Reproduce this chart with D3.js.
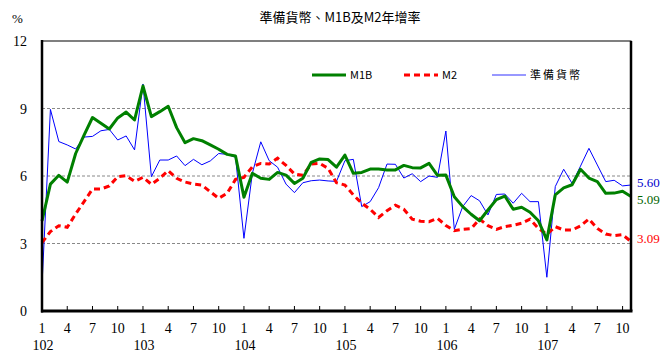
<!DOCTYPE html>
<html><head><meta charset="utf-8">
<script src="https://cdn.jsdelivr.net/npm/d3@7"></script>
<style>body{margin:0;background:#fff}svg{display:block}</style>
</head><body><svg id="c" width="670" height="364"></svg>
<script>
const years = ["102","103","104","105","106","107"];
const monthLabels = ["1","4","7","10"];
const yTicks = [0,3,6,9,12];
const m1b = [4.0,5.64,6.03,5.73,7.0,7.82,8.6,8.34,8.09,8.58,8.84,8.49,
 10.0,8.64,8.86,9.1,8.15,7.48,7.66,7.57,7.38,7.19,6.96,6.89,
 5.06,6.12,5.9,5.85,6.16,6.04,5.67,5.9,6.61,6.76,6.73,6.39,
 6.93,6.12,6.16,6.31,6.31,6.27,6.27,6.47,6.37,6.36,6.56,6.03,
 6.04,5.08,4.64,4.3,4.01,4.49,4.95,5.11,4.52,4.61,4.39,4.01,
 3.16,5.16,5.47,5.61,6.3,5.91,5.75,5.23,5.24,5.32,5.09];
const m2 = [3.04,3.53,3.79,3.72,4.31,4.86,5.42,5.42,5.56,5.97,6.01,5.76,
 5.94,5.63,5.9,6.24,5.9,5.73,5.64,5.6,5.3,5.01,5.23,5.85,
 5.94,6.41,6.56,6.53,6.79,6.47,6.09,6.03,6.53,6.56,6.34,5.7,
 5.6,5.16,4.79,4.52,4.16,4.46,4.7,4.52,4.08,3.99,3.97,4.12,
 3.8,3.57,3.63,3.66,4.09,3.79,3.63,3.75,3.81,3.9,4.08,3.67,
 3.41,3.75,3.6,3.6,3.78,4.09,3.67,3.42,3.35,3.39,3.09];
const reserve = [1.15,8.96,7.53,7.38,7.2,7.73,7.76,8.01,8.07,7.6,7.78,7.16,
 10.09,5.97,6.71,6.71,6.89,6.46,6.74,6.5,6.67,7.0,6.96,6.83,
 3.23,6.12,7.52,6.68,6.39,5.64,5.26,5.7,5.79,5.82,5.78,5.76,
 6.68,6.74,4.64,4.86,5.48,6.53,6.52,5.91,6.1,5.75,6.0,5.94,
 8.0,3.63,4.64,5.13,4.9,4.27,5.18,5.2,4.79,5.23,4.86,4.86,
 1.5,5.53,6.3,5.67,6.44,7.23,6.49,5.75,5.81,5.56,5.60];

const svg = d3.select("#c");
const L=42, R=631, T=41, B=311;
const x = d3.scaleLinear().domain([0, m1b.length-1]).range([L,R]);
const y = d3.scaleLinear().domain([0,12]).range([B,T]);
const serif = "'Liberation Serif','Times New Roman',serif";
const cjk = "'Noto Sans CJK TC','Noto Sans CJK SC',sans-serif";

// title
svg.append("text").attr("x",340).attr("y",22).attr("text-anchor","middle")
  .attr("font-family",cjk).attr("font-size",13).attr("fill","#000")
  .text("準備貨幣、M1B及M2年增率");
svg.append("text").attr("x",12).attr("y",23).attr("font-family",serif)
  .attr("font-size",13).text("%");

// gridlines
svg.append("g").selectAll("line").data(yTicks.filter(d=>d>0&&d<12)).join("line")
  .attr("x1",L).attr("x2",R).attr("y1",d=>y(d)).attr("y2",d=>y(d))
  .attr("stroke","#888").attr("stroke-dasharray","3,2").attr("stroke-width",1);

// y labels
svg.append("g").selectAll("text").data(yTicks).join("text")
  .attr("x",27).attr("y",d=>y(d)+5).attr("text-anchor","end")
  .attr("font-family",serif).attr("font-size",14).text(d=>d);

// x ticks
const tickIdx = d3.range(0, m1b.length, 3);
svg.append("g").selectAll("line").data(tickIdx).join("line")
  .attr("x1",d=>x(d)).attr("x2",d=>x(d)).attr("y1",B).attr("y2",B-5)
  .attr("stroke","#000").attr("stroke-width",1);
svg.append("g").selectAll("text").data(tickIdx).join("text")
  .attr("x",d=>x(d)).attr("y",333).attr("text-anchor","middle")
  .attr("font-family",serif).attr("font-size",14)
  .text(d=>monthLabels[(d%12)/3]);
svg.append("g").selectAll("text").data(years).join("text")
  .attr("x",(d,i)=>x(i*12)+1).attr("y",350).attr("text-anchor","middle")
  .attr("font-family",serif).attr("font-size",14).text(d=>d);

// lines
const line = d3.line().x((d,i)=>x(i)).y(d=>y(d));
svg.append("path").datum(reserve).attr("d",line).attr("fill","none")
  .attr("stroke","#0000ff").attr("stroke-width",1);
svg.append("path").datum(m2).attr("d",line).attr("fill","none")
  .attr("stroke","#ff0000").attr("stroke-width",3).attr("stroke-dasharray","6,4");
svg.append("path").datum(m1b).attr("d",line).attr("fill","none")
  .attr("stroke","#008000").attr("stroke-width",3).attr("stroke-linejoin","round");

// frame
svg.append("rect").attr("x",L).attr("y",T).attr("width",R-L).attr("height",B-T)
  .attr("fill","none").attr("stroke","#000").attr("stroke-width",1);
svg.append("line").attr("x1",L).attr("x2",L).attr("y1",T-1).attr("y2",B+1.5)
  .attr("stroke","#000").attr("stroke-width",2.5);
svg.append("line").attr("x1",L-1).attr("x2",R+1.5).attr("y1",B).attr("y2",B)
  .attr("stroke","#000").attr("stroke-width",3);
svg.append("line").attr("x1",R).attr("x2",R).attr("y1",T).attr("y2",B)
  .attr("stroke","#000").attr("stroke-width",2.5);

// legend
const legend = [
  {name:"M1B", color:"#008000", w:3, dash:null, x:312},
  {name:"M2", color:"#ff0000", w:3, dash:"6,4", x:404},
  {name:"準備貨幣", color:"#3333ff", w:1.2, dash:null, x:492}
];
const lg = svg.append("g").selectAll("g").data(legend).join("g");
lg.append("line").attr("x1",d=>d.x).attr("x2",d=>d.x+34).attr("y1",75).attr("y2",75)
  .attr("stroke",d=>d.color).attr("stroke-width",d=>d.w).attr("stroke-dasharray",d=>d.dash);
lg.append("text").attr("x",d=>d.x+38).attr("y",79)
  .attr("font-family",cjk).attr("font-size",11).attr("letter-spacing",d=>d.name.length>3?2:0)
  .text(d=>d.name);

// end labels
const endLabels = [
  {v:reserve[reserve.length-1], c:"#0000cc", dy:2},
  {v:m1b[m1b.length-1], c:"#006400", dy:8},
  {v:m2[m2.length-1], c:"#ff0000", dy:2}
];
svg.append("g").selectAll("text").data(endLabels).join("text")
  .attr("x",637).attr("y",d=>y(d.v)+d.dy).attr("font-family",serif)
  .attr("font-size",13).attr("fill",d=>d.c).text(d=>d.v.toFixed(2));
</script></body></html>
